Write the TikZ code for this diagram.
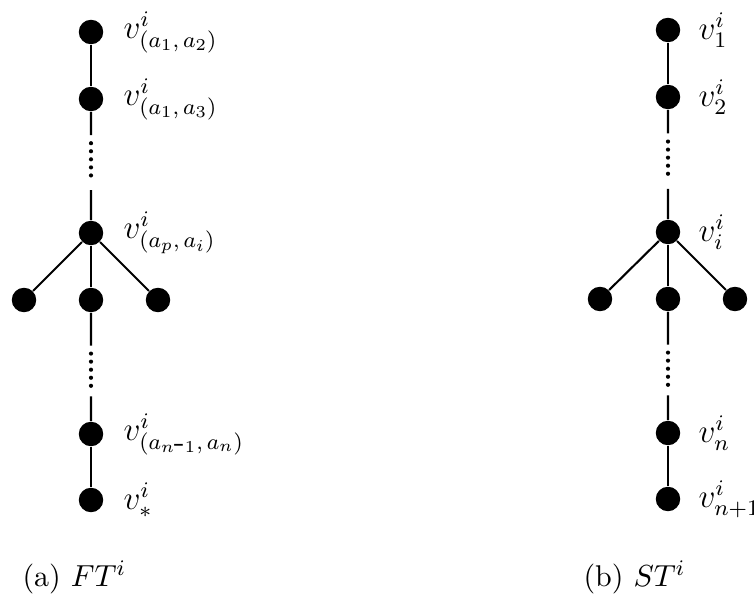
\documentclass[tikz,border=0pt]{standalone}
\usetikzlibrary{calc}
\begin{document}
\begin{tikzpicture}[x=0.36pt,y=-0.36pt,
  vert/.style={circle,fill=black,inner sep=0pt,minimum size=8.8pt},
  edge/.style={line width=0.75pt},
  dotsline/.style={line width=1.5pt,line cap=round,dash pattern=on 0pt off 2.9pt},
  lab/.style={anchor=west,inner sep=0pt,font=\large},
  captext/.style={anchor=west,inner sep=0pt,font=\fontsize{10.8}{13}\selectfont}]
\useasboundingbox (0,0) rectangle (754,600);

% ---- left tree FT^i ----
\node[vert] (f1) at (91,32) {};
\node[vert] (f2) at (91,99) {};
\node[vert] (fp) at (91,233) {};
\node[vert] (fl) at (24,300) {};
\node[vert] (fm) at (91,300) {};
\node[vert] (fr) at (158,300) {};
\node[vert] (fn) at (91,434) {};
\node[vert] (fs) at (91,500) {};

\draw[edge] (f1) -- (f2);
\draw[edge] (f2) -- ($(f2)!0.27!(fp)$);
\draw[dotsline] ($(f2)!0.33!(fp)$) -- ($(f2)!0.62!(fp)$);
\draw[edge] ($(f2)!0.68!(fp)$) -- (fp);
\draw[edge] (fp) -- (fl);
\draw[edge] (fp) -- (fm);
\draw[edge] (fp) -- (fr);
\draw[edge] (fm) -- ($(fm)!0.34!(fn)$);
\draw[dotsline] ($(fm)!0.40!(fn)$) -- ($(fm)!0.66!(fn)$);
\draw[edge] ($(fm)!0.72!(fn)$) -- (fn);
\draw[edge] (fn) -- (fs);

\node[lab] (lf1) at (123,32) {$v^{i}_{(a_1,\,a_2)}$};
\node[lab] (lf2) at (123,99) {$v^{i}_{(a_1,\,a_3)}$};
\node[lab] (lfp) at (123,233) {$v^{i}_{(a_p,\,a_i)}$};
\node[lab] (lfn) at (123,434) {$v^{i}_{(a_{n\mbox{-}1},\,a_n)}$};
\node[lab] (lfs) at (123,500) {$v^{i}_{*}$};

\node[captext] (capa) at (22,577) {(a) $FT^{i}$};

% ---- right tree ST^i ----
\node[vert] (s1) at (668,30) {};
\node[vert] (s2) at (668,97) {};
\node[vert] (si) at (668,232) {};
\node[vert] (sl) at (600,299) {};
\node[vert] (sm) at (668,299) {};
\node[vert] (sr) at (735,299) {};
\node[vert] (sn) at (668,433) {};
\node[vert] (sz) at (668,499) {};

\draw[edge] (s1) -- (s2);
\draw[edge] (s2) -- ($(s2)!0.27!(si)$);
\draw[dotsline] ($(s2)!0.33!(si)$) -- ($(s2)!0.62!(si)$);
\draw[edge] ($(s2)!0.68!(si)$) -- (si);
\draw[edge] (si) -- (sl);
\draw[edge] (si) -- (sm);
\draw[edge] (si) -- (sr);
\draw[edge] (sm) -- ($(sm)!0.34!(sn)$);
\draw[dotsline] ($(sm)!0.40!(sn)$) -- ($(sm)!0.66!(sn)$);
\draw[edge] ($(sm)!0.72!(sn)$) -- (sn);
\draw[edge] (sn) -- (sz);

\node[lab] (ls1) at (698,30) {$v^{i}_{1}$};
\node[lab] (ls2) at (698,97) {$v^{i}_{2}$};
\node[lab] (lsi) at (698,232) {$v^{i}_{i}$};
\node[lab] (lsn) at (698,433) {$v^{i}_{n}$};
\node[lab] (lsz) at (698,499) {$v^{i}_{n+1}$};

\node[captext] (capb) at (583,577) {(b) $ST^{i}$};
\end{tikzpicture}
\end{document}
